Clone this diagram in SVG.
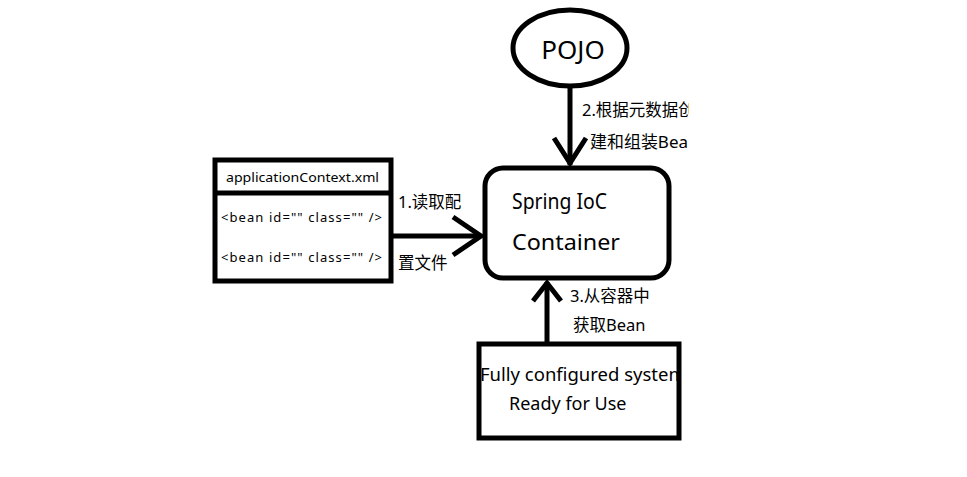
<svg xmlns="http://www.w3.org/2000/svg" width="967" height="477" viewBox="0 0 967 477">
<style>
.s{fill:none;stroke:#000;stroke-width:5;}
.b{fill:#fff;stroke:#000;stroke-width:5;}
.t{font-family:"Noto Sans","Noto Sans CJK SC",sans-serif;fill:#000;}
.l{font-family:"Noto Sans","Noto Sans CJK SC",sans-serif;font-size:16.5px;fill:#000;}
</style>
<defs>
<clipPath id="c2"><rect x="560" y="90" width="129" height="70"/></clipPath>
<clipPath id="c4"><rect x="479" y="344" width="198" height="94"/></clipPath>
</defs>
<rect x="0" y="0" width="967" height="477" fill="#fff"/>
<g id="connectors">
<g id="e1">
<line class="s" x1="393" y1="236" x2="480" y2="236"/>
<polyline class="s" points="453,217 481,236 453,255"/>
<text class="l" x="398" y="208">1.读取配</text>
<text class="l" x="398" y="269">置文件</text>
</g>
<g id="e2">
<line class="s" x1="570" y1="86" x2="570" y2="165"/>
<polyline class="s" points="554,138 570,163 586,138"/>
<g clip-path="url(#c2)">
<text class="l" x="582" y="116">2.根据元数据创</text>
<text class="l" x="590" y="148" textLength="98" lengthAdjust="spacingAndGlyphs">建和组装Bea</text>
</g>
</g>
<g id="e3">
<line class="s" x1="547" y1="345" x2="547" y2="282"/>
<polyline class="s" points="533,301 547,283 561,301"/>
<text class="l" x="570" y="302">3.从容器中</text>
<text class="l" x="573" y="331">获取Bean</text>
</g>
</g>
<g id="pojo">
<ellipse class="b" cx="570" cy="48" rx="57" ry="38" stroke-width="4"/>
<text class="t" x="573" y="59" font-size="26" text-anchor="middle">POJO</text>
</g>
<g id="xml">
<rect class="b" x="215" y="160" width="176" height="121"/>
<line class="s" x1="215" y1="193" x2="391" y2="193" stroke-width="3"/>
<text class="t" x="226" y="182" font-size="13" textLength="153" lengthAdjust="spacingAndGlyphs">applicationContext.xml</text>
<text class="t" x="221" y="222" font-size="13" textLength="161">&lt;bean id="" class="" /&gt;</text>
<text class="t" x="221" y="262" font-size="13" textLength="161">&lt;bean id="" class="" /&gt;</text>
</g>
<g id="ioc">
<rect class="b" x="485" y="168" width="184" height="110" rx="18" stroke-width="4.5"/>
<text class="t" x="512" y="209" font-size="22" textLength="95" lengthAdjust="spacingAndGlyphs">Spring IoC</text>
<text class="t" x="512" y="250" font-size="22" textLength="108" lengthAdjust="spacingAndGlyphs">Container</text>
</g>
<g id="system">
<rect class="b" x="479" y="344" width="200" height="94"/>
<g clip-path="url(#c4)">
<text class="t" x="480" y="381" font-size="18.5">Fully configured system</text>
</g>
<text class="t" x="509" y="410" font-size="18">Ready for Use</text>
</g>
</svg>
